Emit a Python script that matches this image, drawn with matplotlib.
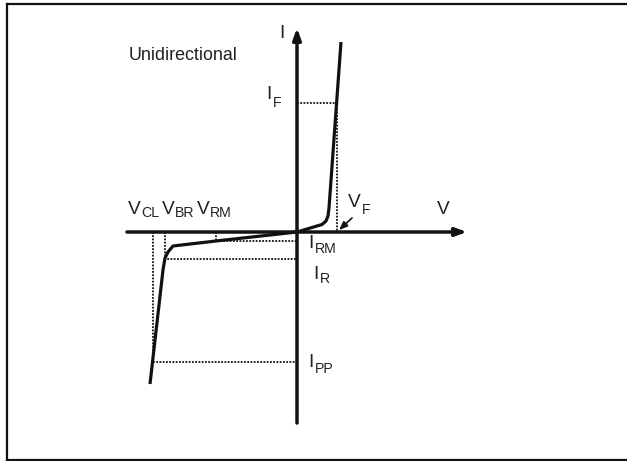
import matplotlib
matplotlib.use("Agg")
import matplotlib.pyplot as plt
from matplotlib.lines import Line2D

# Font
plt.rcParams['font.family'] = ['Liberation Sans', 'DejaVu Sans']

# I-V curve data (arbitrary units, origin at the axes crossing)
fwd_v = [0, 2.5, 2.9, 3.1, 3.2, 4.4]
fwd_i = [0, 0.75, 1.1, 1.6, 2.4, 19.0]
rev_v = [-14.7, -13.4, -13.2, -12.9, -12.4, -8.1, 0]
rev_i = [-15.2, -3.8, -2.6, -2.0, -1.4, -0.9, 0]

# Characteristic points
v_cl, i_pp = -14.45, -13.0
v_br, i_r = -13.22, -2.7
v_rm, i_rm = -8.1, -0.9
v_f, i_f = 3.95, 12.9

# Axis extents
v_axis = (-17.0, 17.0)
i_axis = (-19.1, 20.4)

INK = "#111111"
TXT = "#222222"

fig = plt.figure(figsize=(6.27, 4.61), dpi=100)
ax = fig.add_axes([0, 0, 1, 1])
ax.set_xlim(-29.7, 33.0)
ax.set_ylim(-22.9, 23.2)
ax.axis("off")

# Frame (left, top, bottom)
fx = 7 / 627
for xs, ys in [([fx, fx], [0.003, 1 - 4 / 461]),
               ([fx, 1], [1 - 4 / 461, 1 - 4 / 461]),
               ([fx, 1], [0.003, 0.003])]:
    fig.add_artist(Line2D(xs, ys, transform=fig.transFigure, color=INK, lw=1.6))

# Axes with arrows
arrow = dict(arrowstyle='-|>,head_length=0.55,head_width=0.2', mutation_scale=12,
             lw=2.5, color=INK, shrinkA=0, shrinkB=0)
ax.annotate("", xy=(v_axis[1], 0), xytext=(v_axis[0], 0), arrowprops=arrow)
ax.annotate("", xy=(0, i_axis[1]), xytext=(0, i_axis[0]), arrowprops=arrow)

# Dotted guide lines
dot = dict(color=INK, lw=1.3, linestyle=(0, (1, 0.8)))
ax.plot([0, v_f, v_f], [i_f, i_f, 0], **dot)
ax.plot([v_rm, v_rm, 0], [0, i_rm, i_rm], **dot)
ax.plot([v_br, v_br, 0], [0, i_r, i_r], **dot)
ax.plot([v_cl, v_cl, 0], [0, i_pp, i_pp], **dot)

# Curve
ax.plot(fwd_v, fwd_i, color=INK, lw=2.3, solid_joinstyle='round', solid_capstyle='butt')
ax.plot(rev_v, rev_i, color=INK, lw=2.3, solid_joinstyle='round', solid_capstyle='butt')

# V_F pointer
ax.annotate("", xy=(4.2, 0.2), xytext=(5.5, 1.4),
            arrowprops=dict(arrowstyle='-|>,head_length=0.5,head_width=0.2',
                            mutation_scale=10, lw=1.2, color=INK,
                            shrinkA=0, shrinkB=0))


def label(x, y, main, sub=None, dx=0.0, dy=0.0):
    ax.text(x, y, main, fontsize=13.8, color=TXT, ha='left', va='baseline')
    if sub:
        ax.text(x + dx, y - dy, sub, fontsize=10.2, color=TXT, ha='left', va='baseline')


label(-1.75, 19.4, "I")
label(14.0, 1.77, "V")
label(-3.05, 13.3, "I", "F", 0.65, 0.8)
label(5.1, 2.53, "V", "F", 1.35, 0.76)
label(-16.9, 1.77, "V", "CL", 1.3, 0.3)
label(-13.53, 1.77, "V", "BR", 1.3, 0.3)
label(-10.03, 1.77, "V", "RM", 1.3, 0.3)
label(1.15, -1.63, "I", "RM", 0.65, 0.44)
label(1.65, -4.73, "I", "R", 0.65, 0.4)
label(1.15, -13.47, "I", "PP", 0.65, 0.6)

ax.text(-16.8, 17.2, "Unidirectional", fontsize=12.9, color=TXT, ha='left', va='baseline')

fig.savefig("out.png", dpi=100)
